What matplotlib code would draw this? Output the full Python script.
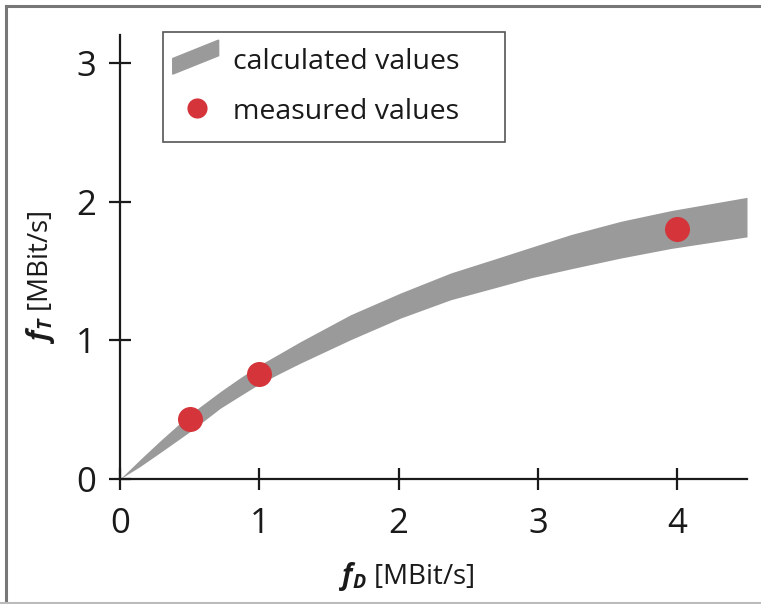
import matplotlib
matplotlib.use("Agg")
import matplotlib.pyplot as plt
from matplotlib.patches import Polygon, Patch
from matplotlib.lines import Line2D
from matplotlib.legend_handler import HandlerPatch

plt.rcParams['font.family'] = ['Open Sans', 'DejaVu Sans']
plt.rcParams['mathtext.fontset'] = 'custom'
plt.rcParams['mathtext.it'] = 'Open Sans:italic:bold'
plt.rcParams['mathtext.rm'] = 'Open Sans'

# band of calculated values
band_x = [0, 0.144, 0.288, 0.5, 0.72, 0.863, 1.0, 1.151, 1.295, 1.655, 2.014,
          2.374, 2.734, 2.95, 3.237, 3.597, 3.957, 4.5]
band_hi = [0, 0.14, 0.275, 0.465, 0.63, 0.73, 0.82, 0.907, 0.99, 1.184, 1.341,
           1.485, 1.60, 1.67, 1.762, 1.858, 1.935, 2.03]
band_lo = [0, 0.09, 0.19, 0.34, 0.51, 0.60, 0.685, 0.763, 0.835, 1.004, 1.160,
           1.292, 1.39, 1.45, 1.515, 1.593, 1.662, 1.745]

# measured values
meas_x = [0.5, 1.0, 4.0]
meas_y = [0.43, 0.76, 1.80]

x_ticks = [0, 1, 2, 3, 4]
y_ticks = [0, 1, 2, 3]

GRAY = '#999a99'
RED = '#d4343a'
INK = '#1a1a1a'


def slanted(legend, orig_handle, xdescent, ydescent, width, height, fontsize):
    # parallelogram used as legend key for the band
    w = width
    h = height
    return Polygon([[-0.16 * w, -0.22 * h], [1.08 * w, 0.56 * h],
                    [1.08 * w, 1.22 * h], [-0.16 * w, 0.44 * h]], closed=True)


fig = plt.figure(figsize=(7.61, 6.04), dpi=100)
ax = fig.add_axes([0.1577, 0.207, 0.8239, 0.735])

ax.fill_between(band_x, band_lo, band_hi, color=GRAY, lw=0, zorder=2)
ax.plot(meas_x, meas_y, 'o', color=RED, markersize=18, markeredgewidth=0, zorder=3)

ax.set_xlim(0, 4.5)
ax.set_ylim(0, 3.2)
ax.set_xticks(x_ticks)
ax.set_yticks(y_ticks)

for s in ['top', 'right']:
    ax.spines[s].set_visible(False)
for s in ['left', 'bottom']:
    ax.spines[s].set_linewidth(1.6)
    ax.spines[s].set_color(INK)

ax.tick_params(axis='both', direction='inout', length=16, width=1.6, color=INK,
               labelsize=25, labelcolor=INK)
ax.tick_params(axis='x', pad=12)
ax.tick_params(axis='y', pad=9.5)

ax.set_xlabel(r'$f_D$ [MBit/s]', fontsize=20, color=INK)
ax.set_ylabel(r'$f_T$ [MBit/s]', fontsize=20, color=INK)
ax.xaxis.set_label_coords(0.458, -0.183)
ax.yaxis.set_label_coords(-0.10, 0.455)

handles = [Patch(color=GRAY, label='calculated values'),
           Line2D([], [], marker='o', ls='none', color=RED, markersize=14.5,
                  markeredgewidth=0, label='measured values')]
leg = ax.legend(handles=handles, loc='upper left',
                bbox_to_anchor=(0.069, 1.007, 0.545, 0.0), mode='expand',
                fontsize=20.5, frameon=True, fancybox=False, framealpha=1,
                edgecolor='#555555', handlelength=1.3, handleheight=0.9,
                handletextpad=0.6, borderpad=0.54, borderaxespad=0,
                labelspacing=0.76,
                handler_map={Patch: HandlerPatch(patch_func=slanted)})
leg.get_frame().set_linewidth(1.2)
for t in leg.get_texts():
    t.set_color(INK)

# frame around the figure
fig.add_artist(Line2D([6 / 761, 6 / 761], [0, 1 - 6 / 604], transform=fig.transFigure,
                      color='#777777', lw=2.2))
fig.add_artist(Line2D([6 / 761, 1], [1 - 6 / 604, 1 - 6 / 604], transform=fig.transFigure,
                      color='#777777', lw=2.2))
fig.add_artist(Line2D([0, 1], [1 / 604, 1 / 604], transform=fig.transFigure,
                      color='#bbbbbb', lw=1.5))

fig.savefig('out.png', dpi=100)
